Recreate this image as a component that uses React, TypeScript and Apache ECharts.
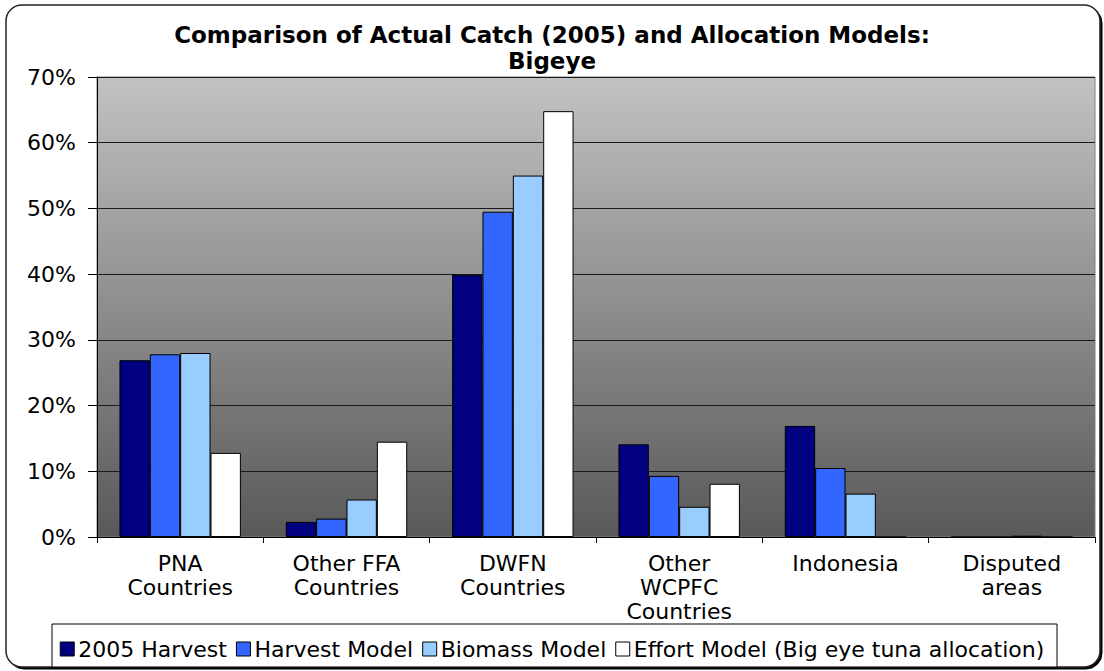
import React, { useEffect, useRef } from "react";
import * as echarts from "echarts";

// Regions on the category axis
const categories = [
  "PNA\nCountries",
  "Other FFA\nCountries",
  "DWFN\nCountries",
  "Other\nWCPFC\nCountries",
  "Indonesia",
  "Disputed\nareas",
];

// Share of bigeye catch / allocation, in percent
const harvest2005 = [26.9, 2.3, 39.9, 14.1, 16.9, 0];
const harvestModel = [27.8, 2.8, 49.5, 9.3, 10.5, 0];
const biomassModel = [28.0, 5.7, 55.0, 4.6, 6.6, 0.2];
const effortModel = [12.8, 14.5, 64.8, 8.1, 0, 0];

const seriesNames = [
  "2005 Harvest",
  "Harvest Model",
  "Biomass Model",
  "Effort Model (Big eye tuna allocation)",
];
const seriesColors = ["#000080", "#3366ff", "#99ccff", "#ffffff"];

const yTicks = { min: 0, max: 70, interval: 10 };

const FONT = "DejaVu Sans";

export default function App() {
  const ref = useRef<HTMLDivElement>(null);

  useEffect(() => {
    if (!ref.current) return;
    const chart = echarts.init(ref.current, null, { renderer: "svg" });
    const values = [harvest2005, harvestModel, biomassModel, effortModel];

    chart.setOption({
      animation: false,
      backgroundColor: "#ffffff",
      textStyle: { fontFamily: FONT },
      title: {
        text: "Comparison of Actual Catch (2005) and Allocation Models:\nBigeye",
        left: "center",
        top: 17,
        textStyle: {
          fontFamily: FONT,
          fontSize: 23,
          fontWeight: "bold",
          color: "#000",
          lineHeight: 26,
        },
      },
      graphic: [
        {
          type: "rect",
          z: -10,
          silent: true,
          shape: { x: 8, y: 7, width: 1094, height: 662, r: 16 },
          style: { fill: "#000", stroke: "#000", lineWidth: 1 },
        },
        {
          type: "rect",
          z: -9,
          silent: true,
          shape: { x: 6, y: 5, width: 1094, height: 662, r: 16 },
          style: { fill: "#fff", stroke: "#222", lineWidth: 1.5 },
        },
        {
          type: "rect",
          z: -8,
          silent: true,
          shape: { x: 52, y: 624, width: 1005, height: 43 },
          style: { fill: "#fff", stroke: "#000", lineWidth: 1 },
        },
      ],
      legend: {
        data: seriesNames,
        left: "center",
        top: 633,
        icon: "rect",
        itemWidth: 14,
        itemHeight: 14,
        itemGap: 9,
        itemStyle: { borderColor: "#000", borderWidth: 1 },
        textStyle: { fontFamily: FONT, fontSize: 22, color: "#000", padding: [0, 0, 0, -1] },
      },
      grid: {
        left: 97,
        right: 9,
        top: 77,
        bottom: 134,
        show: true,
        borderColor: "#808080",
        borderWidth: 1,
        backgroundColor: {
          type: "linear",
          x: 0,
          y: 0,
          x2: 0,
          y2: 1,
          colorStops: [
            { offset: 0, color: "#c2c2c2" },
            { offset: 1, color: "#595959" },
          ],
        },
      },
      xAxis: {
        type: "category",
        data: categories,
        axisLine: { show: true, lineStyle: { color: "#000", width: 1 } },
        axisTick: { show: true, length: 6, lineStyle: { color: "#000" } },
        axisLabel: {
          color: "#000",
          fontFamily: FONT,
          fontSize: 22,
          lineHeight: 24,
          margin: 14,
          interval: 0,
        },
        splitLine: { show: false },
      },
      yAxis: {
        type: "value",
        min: yTicks.min,
        max: yTicks.max,
        interval: yTicks.interval,
        axisLine: { show: true, lineStyle: { color: "#000", width: 1 } },
        axisTick: { show: true, length: 9, lineStyle: { color: "#000" } },
        axisLabel: {
          color: "#000",
          fontFamily: FONT,
          fontSize: 22,
          margin: 21,
          formatter: "{value}%",
        },
        splitLine: { show: true, lineStyle: { color: "#1a1a1a", width: 1 } },
      },
      series: seriesNames.map((name, i) => ({
        name,
        type: "bar",
        data: values[i],
        barGap: "0%",
        barCategoryGap: "27%",
        itemStyle: { color: seriesColors[i], borderColor: "#000", borderWidth: 1 },
      })),
    });

    return () => chart.dispose();
  }, []);

  return (
    <div
      ref={ref}
      style={{ position: "absolute", left: 0, top: 0, width: 1104, height: 671 }}
    />
  );
}
